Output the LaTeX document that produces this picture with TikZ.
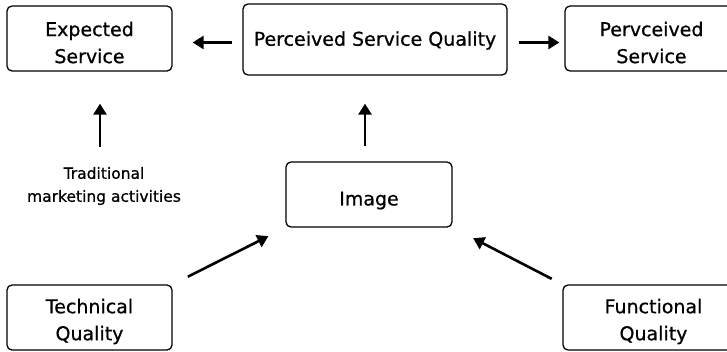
\documentclass[tikz,border=0pt]{standalone}
\usepackage{fontspec}
\setmainfont[FakeBold=0.7]{DejaVu Sans}
\usetikzlibrary{arrows.meta}
\tikzset{
  box/.style={draw, line width=1.3pt, rounded corners=5pt, inner sep=0pt},
  lbl/.style={align=center, inner sep=0pt, font=\fontsize{19}{27}\selectfont},
  note/.style={align=center, inner sep=0pt, font=\fontsize{15.5}{23}\selectfont},
  arr/.style={line width=2.6pt, -{Triangle[length=11pt,width=13pt]}}
}
\begin{document}
\begin{tikzpicture}[x=1pt,y=-1pt]
\useasboundingbox (0,0) rectangle (727,351);
\clip (0,0) rectangle (727,351);
\node[box, minimum width=165pt, minimum height=65pt] (exp) at (89.5,38.5) {};
\node[box, minimum width=264pt, minimum height=71pt] (psq) at (375,39.5) {};
\node[box, minimum width=173pt, minimum height=65pt] (pvs) at (651.5,38.5) {};
\node[box, minimum width=166pt, minimum height=65pt] (img) at (369,194.5) {};
\node[box, minimum width=165pt, minimum height=65pt] (tq) at (89.5,317.5) {};
\node[box, minimum width=181pt, minimum height=65pt] (fq) at (653.5,317.5) {};
\node[lbl] (expt) at ([yshift=-4pt]exp.center) {Expected\\Service};
\node[lbl] (psqt) at ([yshift=-1pt]psq.center) {Perceived Service Quality};
\node[lbl] (pvst) at ([yshift=-4pt]pvs.center) {Pervceived\\Service};
\node[lbl] (imgt) at ([yshift=-6pt]img.center) {Image};
\node[lbl] (tqt) at ([yshift=-4pt]tq.center) {Technical\\Quality};
\node[lbl] (fqt) at ([yshift=-4pt]fq.center) {Functional\\Quality};
\node[note] (trad) at (104,186) {Traditional\\marketing activities};
\draw[arr, shorten <=10pt, shorten >=20pt] ([yshift=-3pt]psq.west) -- ([yshift=-3pt]exp.east |- psq.west);
\draw[arr, shorten <=11pt, shorten >=5pt] ([yshift=-3pt]psq.east) -- ([yshift=-3pt]pvs.west |- psq.east);
\draw[arr, shorten <=15pt, shorten >=28pt] ([xshift=-4pt]img.north) -- ([xshift=-4pt]img.north |- psq.south);
\draw[arr, shorten <=20pt, shorten >=32pt] ([xshift=-4pt]trad.north) -- ([xshift=-4pt]trad.north |- exp.south);
\draw[arr, shorten <=17pt, shorten >=19pt] (tq.north east) -- (img.south west);
\draw[arr, shorten <=12pt, shorten >=23pt] (fq.north west) -- (img.south east);
\end{tikzpicture}
\end{document}
